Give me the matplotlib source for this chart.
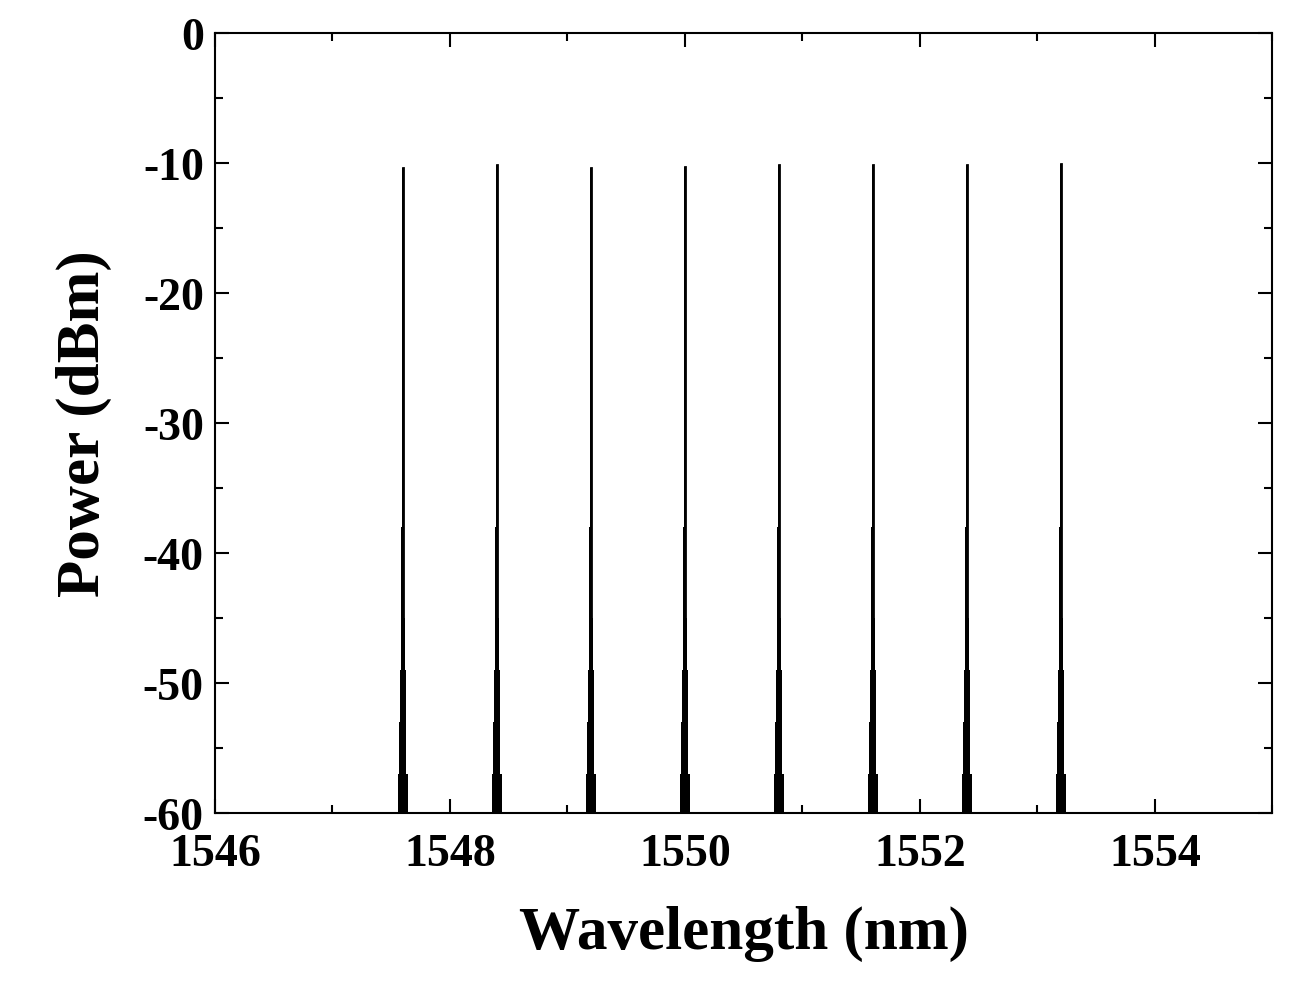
import matplotlib
matplotlib.use("Agg")
import matplotlib.pyplot as plt
import numpy as np

centers = [1547.6, 1548.4, 1549.2, 1550.0, 1550.8, 1551.6, 1552.4, 1553.2]
peaks = [-10.4, -10.2, -10.4, -10.3, -10.2, -10.2, -10.2, -10.1]
# skirt profile: power level (dBm) and half-width (nm) of the spectral line
skirt_levels = [-60, -57, -53, -49, -45, -38, -25]
skirt_halfw = [0.040, 0.030, 0.024, 0.018, 0.013, 0.009, 0.006]

plt.rcParams['font.family'] = ['Liberation Serif', 'DejaVu Serif']
plt.rcParams['font.weight'] = 'bold'
plt.rcParams['axes.unicode_minus'] = False
fig = plt.figure(figsize=(12.99, 9.87), dpi=100)
ax = fig.add_axes([0.1655, 0.175, 0.814, 0.791])

for c, p in zip(centers, peaks):
    lv = list(skirt_levels) + [p]
    hw = list(skirt_halfw) + [0.004]
    ys, xl, xr = [], [], []
    for i in range(len(lv) - 1):
        ys += [lv[i], lv[i + 1]]
        xl += [c - hw[i], c - hw[i]]
        xr += [c + hw[i], c + hw[i]]
    ax.fill_betweenx(ys, xl, xr, color='black', lw=0)
    ax.plot([c, c], [-60, p], color='black', lw=2.0)

ax.set_xlim(1546, 1555)
ax.set_ylim(-60, 0)
ax.set_xticks([1546, 1548, 1550, 1552, 1554])
ax.set_xticks(np.arange(1546, 1555.1, 1), minor=True)
ax.set_yticks(np.arange(-60, 1, 10))
ax.set_yticks(np.arange(-60, 1, 5), minor=True)
ax.tick_params(which='both', direction='in', top=True, right=True, width=1.5)
ax.tick_params(which='major', length=10, labelsize=33)
ax.tick_params(axis='x', which='major', pad=14)
ax.tick_params(axis='y', which='major', pad=8)
ax.tick_params(which='minor', length=6)
for s in ax.spines.values():
    s.set_linewidth(1.5)
for t in ax.get_xticklabels() + ax.get_yticklabels():
    t.set_fontweight('bold')
ax.set_xlabel('Wavelength (nm)', fontsize=44, fontweight='bold', labelpad=22)
ax.set_ylabel('Power (dBm)', fontsize=44, fontweight='bold', labelpad=22)
fig.savefig('out.png', dpi=100)
